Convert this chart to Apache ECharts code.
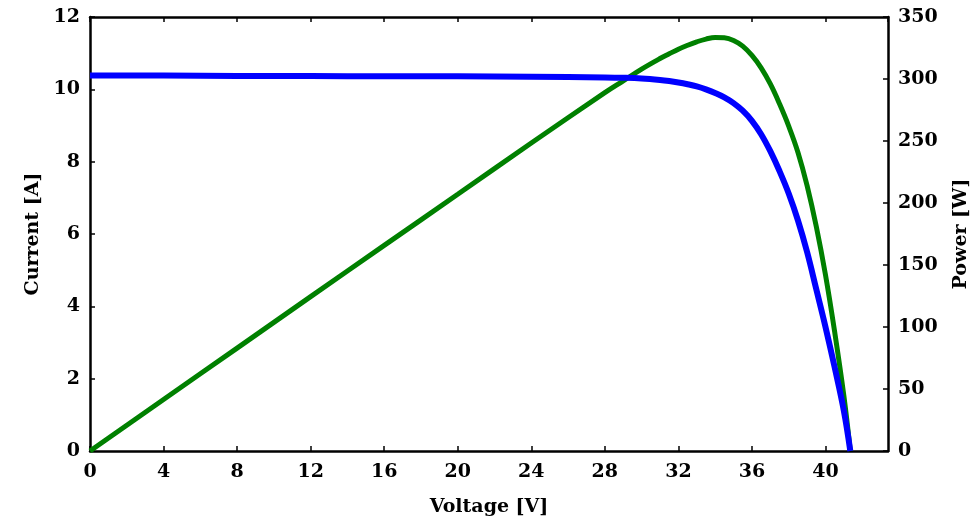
<!DOCTYPE html>
<html><head><meta charset="utf-8">
<script src="https://cdn.jsdelivr.net/npm/echarts@6/dist/echarts.min.js"></script>
<style>html,body{margin:0;padding:0;background:#fff}#c{width:972px;height:521px}</style>
</head><body><div id="c"></div>
<script>
const voltage = [0, 4, 8, 12, 16, 20, 24, 28, 29, 30, 31, 31.5, 32, 32.5, 33, 33.5, 34, 34.5, 35, 35.5, 36, 36.5, 37, 37.5, 38, 38.5, 39, 39.5, 40, 40.5, 41, 41.35];
const current = [10.38, 10.38, 10.37, 10.37, 10.36, 10.36, 10.35, 10.33, 10.32, 10.30, 10.26, 10.23, 10.19, 10.14, 10.08, 10.00, 9.90, 9.78, 9.62, 9.41, 9.13, 8.76, 8.29, 7.74, 7.12, 6.38, 5.50, 4.47, 3.43, 2.31, 1.11, 0];
const power = [0, 41.5, 83, 124.5, 165.8, 207, 248.4, 289, 298.5, 308, 316.5, 320.3, 324, 327.2, 330, 332.2, 333.5, 333.2, 331, 326.5, 319, 309, 296, 280, 262, 241, 214, 181, 142, 96, 44.5, 0];
const xTicks = {min: 0, max: 43.4, interval: 4};
const currentTicks = {min: 0, max: 12, interval: 2};
const powerTicks = {min: 0, max: 350, interval: 50};

const FONT = 'DejaVu Serif';
const lab = {fontFamily: FONT, fontWeight: 'bold', fontSize: 19, color: '#000'};
const axLine = {show: true, onZero: false, lineStyle: {color: '#000', width: 2.5}};
const tick = {show: true, inside: true, length: 5, lineStyle: {color: '#000', width: 1.5}};

const chart = echarts.init(document.getElementById('c'), null, {renderer: 'canvas'});
chart.setOption({
  animation: false,
  backgroundColor: '#fff',
  grid: {left: 90, right: 84, top: 17, bottom: 70, containLabel: false, outerBoundsMode: 'none'},
  xAxis: [{
    type: 'value', position: 'bottom', min: xTicks.min, max: xTicks.max, interval: xTicks.interval,
    name: 'Voltage [V]', nameLocation: 'middle', nameGap: 47,
    nameTextStyle: Object.assign({}, lab),
    axisLine: axLine, axisTick: tick, splitLine: {show: false},
    axisLabel: Object.assign({margin: 12, showMaxLabel: false}, lab)
  }, {
    type: 'value', position: 'top', min: xTicks.min, max: xTicks.max, interval: xTicks.interval,
    axisLine: axLine, axisTick: tick, splitLine: {show: false}, axisLabel: {show: false}
  }],
  yAxis: [{
    type: 'value', position: 'left', min: currentTicks.min, max: currentTicks.max, interval: currentTicks.interval,
    name: 'Current [A]', nameLocation: 'middle', nameGap: 47, nameRotate: 90,
    nameTextStyle: Object.assign({}, lab),
    axisLine: axLine, axisTick: tick, splitLine: {show: false},
    axisLabel: Object.assign({margin: 10}, lab)
  }, {
    type: 'value', position: 'right', min: powerTicks.min, max: powerTicks.max, interval: powerTicks.interval,
    name: 'Power [W]', nameLocation: 'middle', nameGap: 64, nameRotate: 90,
    nameTextStyle: Object.assign({}, lab),
    axisLine: axLine, axisTick: tick, splitLine: {show: false},
    axisLabel: Object.assign({margin: 10}, lab)
  }],
  series: [{
    type: 'line', name: 'Power', xAxisIndex: 0, yAxisIndex: 1, z: 2,
    data: voltage.map((v, i) => [v, power[i]]),
    smooth: 0.4, showSymbol: false,
    lineStyle: {color: '#008000', width: 5}
  }, {
    type: 'line', name: 'Current', xAxisIndex: 0, yAxisIndex: 0, z: 3,
    data: voltage.map((v, i) => [v, current[i]]),
    smooth: 0.4, showSymbol: false,
    lineStyle: {color: '#0000ff', width: 6}
  }]
});
</script></body></html>
